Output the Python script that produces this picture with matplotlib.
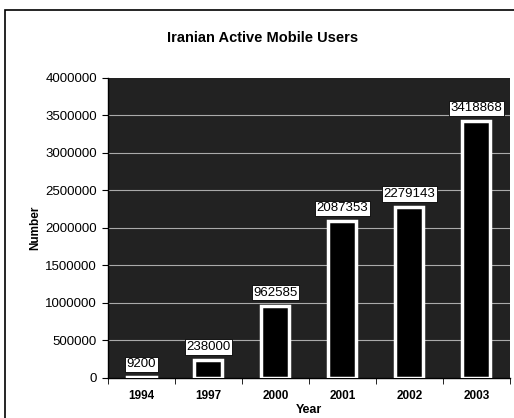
import matplotlib
matplotlib.use("Agg")
import matplotlib.pyplot as plt
from matplotlib.patches import Rectangle
import numpy as np

years = ["1994", "1997", "2000", "2001", "2002", "2003"]
users = [9200, 238000, 962585, 2087353, 2279143, 3418868]
y_ticks = [0, 500000, 1000000, 1500000, 2000000, 2500000, 3000000, 3500000, 4000000]

plt.rcParams['font.family'] = ['Liberation Sans', 'DejaVu Sans']

fig = plt.figure(figsize=(5.14, 4.18), dpi=100)
fig.patch.set_facecolor('white')

# chart area frame (scanned page border)
fig.patches.append(Rectangle((0.01, -0.05), 1.2, 1.025, transform=fig.transFigure,
                             fill=False, edgecolor='black', linewidth=1.2))

ax = fig.add_axes([0.210, 0.096, 0.782, 0.718])
ax.set_facecolor('#222222')

x = np.arange(len(years))
ax.set_xlim(-0.5, len(years) - 0.5)
ax.set_ylim(0, 4000000)

# gridlines
for t in y_ticks[1:-1]:
    ax.axhline(t, color='#aaaaaa', linewidth=0.8, zorder=1)

bars = ax.bar(x, users, width=0.42, color='black', edgecolor='white',
              linewidth=2.5, zorder=3)

for xi, v in zip(x, users):
    ax.annotate(f"{v}", (xi, v), xytext=(0, 5), textcoords='offset points',
                ha='center', va='bottom', fontsize=9.5, zorder=5,
                bbox=dict(boxstyle='square,pad=0.12', facecolor='white',
                          edgecolor='black', linewidth=0.6))

ax.set_yticks(y_ticks)
ax.set_yticklabels([str(t) for t in y_ticks], fontsize=9.5)
ax.set_xticks(x)
ax.set_xticklabels(years, fontsize=8.5, fontweight='bold')
ax.set_xticks(np.arange(-0.5, len(years) - 0.5 + 0.01, 1), minor=True)
ax.tick_params(axis='x', which='major', length=0, pad=9)
ax.tick_params(axis='x', which='minor', length=4, direction='out')
ax.tick_params(axis='y', length=4, direction='out', pad=4)

for s in ['top', 'right']:
    ax.spines[s].set_visible(False)
ax.spines['left'].set_linewidth(1)
ax.spines['bottom'].set_linewidth(1)

ax.set_xlabel("Year", fontsize=9, fontweight='bold', labelpad=1)
ax.set_ylabel("Number", fontsize=8.5, fontweight='bold', labelpad=3)
fig.text(0.51, 0.908, "Iranian Active Mobile Users", ha='center', va='center',
         fontsize=10.5, fontweight='bold')

fig.savefig("out.png", dpi=100)
